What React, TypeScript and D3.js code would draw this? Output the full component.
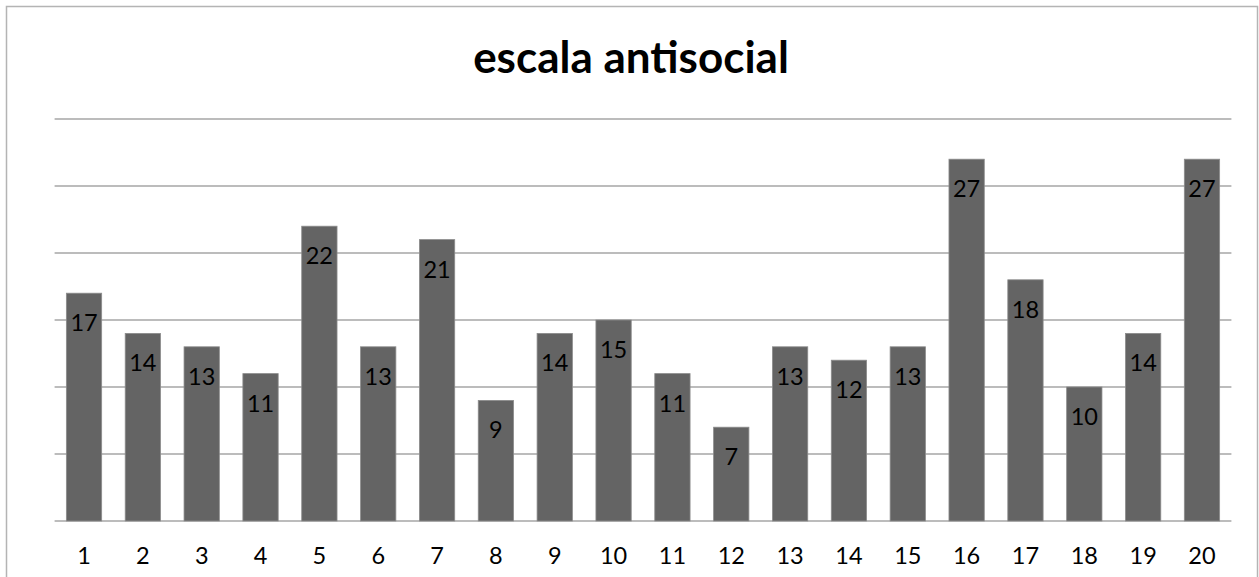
import React from "react";
import * as d3 from "d3";

const categories = ["1","2","3","4","5","6","7","8","9","10","11","12","13","14","15","16","17","18","19","20"];
const values = [17,14,13,11,22,13,21,9,14,15,11,7,13,12,13,27,18,10,14,27];
const yTicks = [0,5,10,15,20,25,30];
const title = "escala antisocial";

const W = 1259, H = 577;
const left = 54.6, right = 1231.4, top = 119, bottom = 521;
const FONT = "Lato, 'Noto Sans', sans-serif";

export default function App() {
  const x = d3.scaleBand<string>().domain(categories).range([left, right]).paddingInner(0.4).paddingOuter(0.2);
  const y = d3.scaleLinear().domain([0, 30]).range([bottom, top]);
  return (
    <svg width={W} height={H} style={{ position: "absolute", left: 0, top: 0, background: "#fff" }}>
      <rect x={6.5} y={6.5} width={1251} height={620} fill="#fff" stroke="#b4b4b4" strokeWidth={1.5} />
      <text x={631} y={73} textAnchor="middle" fontFamily={FONT} fontWeight="bold" fontSize={44} fill="#000">{title}</text>
      {yTicks.map(t => (
        <line key={t} x1={left} x2={right} y1={y(t)} y2={y(t)} stroke="#a6a6a6" strokeWidth={1.3} />
      ))}
      {values.map((v, i) => {
        const c = categories[i];
        const bx = x(c)!;
        return (
          <g key={c}>
            <rect x={bx} y={y(v)} width={x.bandwidth()} height={bottom - y(v)} fill="#646464" stroke="#8c8c8c" strokeWidth={0.8} />
            <text x={bx + x.bandwidth() / 2} y={y(v) + 38} textAnchor="middle" fontFamily={FONT} fontSize={23.5} fill="#000">{v}</text>
          </g>
        );
      })}
      {categories.map(c => (
        <text key={c} x={x(c)! + x.bandwidth() / 2} y={564} textAnchor="middle" fontFamily={FONT} fontSize={23.5} fill="#000">{c}</text>
      ))}
    </svg>
  );
}
